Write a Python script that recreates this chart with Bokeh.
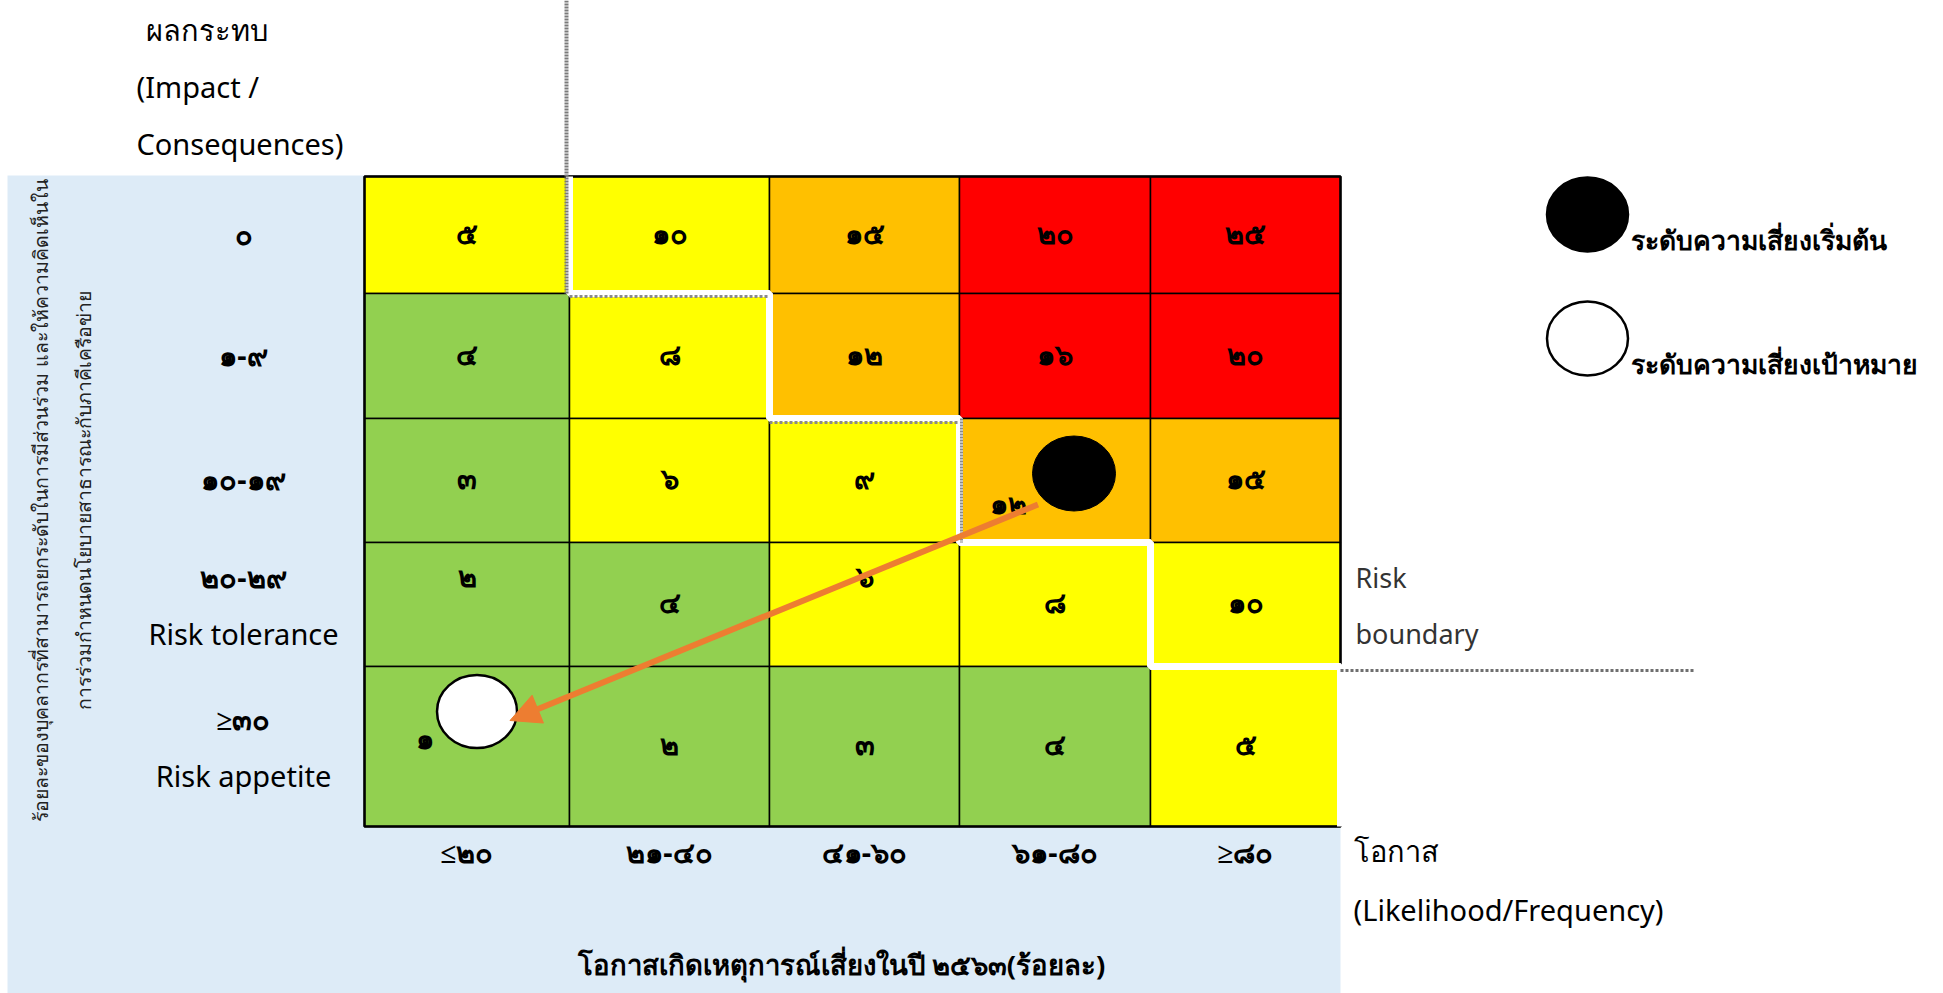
from math import pi
from bokeh.plotting import figure
from bokeh.models import Range1d, Arrow, NormalHead, Label
from bokeh.core.properties import value
from bokeh.embed import file_html
from bokeh.resources import INLINE

# ---------------- data ----------------
impact_labels = ["๐", "๑-๙", "๑๐-๑๙", "๒๐-๒๙", "≥๓๐"]          # top -> bottom
impact_notes = ["", "", "", "Risk tolerance", "Risk appetite"]
likelihood_labels = ["≤๒๐", "๒๑-๔๐", "๔๑-๖๐", "๖๑-๘๐", "≥๘๐"]  # left -> right
scores = [
    [5, 10, 15, 20, 25],
    [4, 8, 12, 16, 20],
    [3, 6, 9, 12, 15],
    [2, 4, 6, 8, 10],
    [1, 2, 3, 4, 5],
]
levels = [
    ["medium", "medium", "high", "very_high", "very_high"],
    ["low", "medium", "high", "very_high", "very_high"],
    ["low", "medium", "medium", "high", "high"],
    ["low", "low", "medium", "medium", "medium"],
    ["low", "low", "low", "low", "medium"],
]
tolerance_cols = [1, 2, 3, 4, 5]          # cells inside the risk boundary per row
initial_risk = (2, 3)                      # (impact row, likelihood col)
target_risk = (4, 0)
legend_labels = ["ระดับความเสี่ยงเริ่มต้น", "ระดับความเสี่ยงเป้าหมาย"]
y_title = ["ร้อยละของบุคลากรที่สามารถยกระดับในการมีส่วนร่วม และให้ความคิดเห็นใน",
           "การร่วมกำหนดนโยบายสาธารณะกับภาคีเครือข่าย"]
impact_title = ["ผลกระทบ", "(Impact /", "Consequences)"]
likelihood_title = ["โอกาส", "(Likelihood/Frequency)"]
x_title = "โอกาสเกิดเหตุการณ์เสี่ยงในปี ๒๕๖๓(ร้อยละ)"
boundary_label = ["Risk", "boundary"]

# ---------------- styles / layout ----------------
W, H = 1943, 993
COLORS = {"low": "#92D050", "medium": "#FFFF00", "high": "#FFC000", "very_high": "#FF0000"}
PANEL = "#DDEBF7"
ORANGE = "#ED7D31"
FONT_NAME = "Noto Sans"
FONT = value(FONT_NAME)
COL_EDGES = [364, 569, 769, 959, 1150, 1340]
ROW_EDGES = [176, 293, 418, 542, 666, 826]
THAI = str.maketrans("0123456789", "๐๑๒๓๔๕๖๗๘๙")
NUM_SIZE = "29px"


def th(n):
    return str(n).translate(THAI)


def cx(c):
    return (COL_EDGES[c] + COL_EDGES[c + 1]) / 2


def cy(r):
    return (ROW_EDGES[r] + ROW_EDGES[r + 1]) / 2


def label(x, y, text, size="26px", bold=False, align="center", color="black", angle=0):
    p.add_layout(Label(x=x, y=y, text=text, text_align=align, text_baseline="middle",
                       text_font=FONT_NAME, text_font_size=size, angle=angle,
                       text_font_style="bold" if bold else "normal", text_color=color))


p = figure(width=W, height=H, x_range=Range1d(0, W), y_range=Range1d(H, 0),
           output_backend="svg", toolbar_location=None, min_border=0,
           outline_line_color=None, background_fill_color="white")
p.axis.visible = False
p.grid.visible = False

# blue panel
p.quad(left=[7], right=[COL_EDGES[-1]], top=[175], bottom=[H], fill_color=PANEL, line_color=None)

# cells
xs_l, xs_r, ys_t, ys_b, fills, tx, ty, tt = [], [], [], [], [], [], [], []
for r in range(5):
    for c in range(5):
        xs_l.append(COL_EDGES[c]); xs_r.append(COL_EDGES[c + 1])
        ys_t.append(ROW_EDGES[r]); ys_b.append(ROW_EDGES[r + 1])
        fills.append(COLORS[levels[r][c]])
        dx, dy = 0, -3
        if r == 3 and c in (0, 2):
            dy = -29
        if (r, c) == initial_risk:
            dx, dy = -47, 22
        if (r, c) == target_risk:
            dx, dy = -42, -9
        tx.append(cx(c) + dx); ty.append(cy(r) + dy); tt.append(th(scores[r][c]))
p.quad(left=xs_l, right=xs_r, top=ys_t, bottom=ys_b, fill_color=fills,
       line_color="black", line_width=1.5)
p.quad(left=[COL_EDGES[0]], right=[COL_EDGES[-1]], top=[ROW_EDGES[0]], bottom=[ROW_EDGES[-1]],
       fill_color=None, line_color="black", line_width=2.5)

# risk boundary (white staircase with hatched grey edge)
bx, by = [], []
for r, nc in enumerate(tolerance_cols):
    bx += [COL_EDGES[nc], COL_EDGES[nc]]
    by += [ROW_EDGES[r], ROW_EDGES[r + 1]]
p.line(bx, by, line_color="white", line_width=7)
p.line([COL_EDGES[1] - 3, COL_EDGES[1] - 3], [0, ROW_EDGES[1]], line_color="#7a7a7a",
       line_width=4, line_dash="2 1")
p.line([COL_EDGES[1], COL_EDGES[2]], [ROW_EDGES[1] + 3, ROW_EDGES[1] + 3],
       line_color="#8a8a8a", line_width=3, line_dash="3 2")
p.line([COL_EDGES[2], COL_EDGES[3]], [ROW_EDGES[2] + 4, ROW_EDGES[2] + 4],
       line_color="#8a8a8a", line_width=3, line_dash="3 2")
p.line([COL_EDGES[3] + 2, COL_EDGES[3] + 2], [ROW_EDGES[2], ROW_EDGES[3]],
       line_color="#8a8a8a", line_width=3, line_dash="2 1")
p.line([COL_EDGES[-1], 1695], [ROW_EDGES[4] + 4, ROW_EDGES[4] + 4],
       line_color="#6f6f6f", line_width=3, line_dash="3 2")

# cell numbers
p.text(x=tx, y=ty, text=tt, text_align="center", text_baseline="middle",
       text_font=FONT, text_font_style="bold", text_font_size=NUM_SIZE, text_color="black")

# row labels
for r, lab in enumerate(impact_labels):
    if impact_notes[r]:
        label(243, cy(r) - 28, lab, NUM_SIZE, True)
        label(243, cy(r) + 29, impact_notes[r], "29px")
    else:
        label(243, cy(r) - 2, lab, NUM_SIZE, True)

# column labels
for c, lab in enumerate(likelihood_labels):
    label(cx(c), 851, lab, NUM_SIZE, True)

# titles
for i, t in enumerate(impact_title):
    label(136 + (9 if i == 0 else 0), 29 + 57 * i, t, "29px", False, "left")
for i, t in enumerate(likelihood_title):
    label(1353, 850 + 59 * i, t, "29px", False, "left")
label(841, 964, x_title, "27.5px", True)
for i, t in enumerate(y_title):
    label(40 + 43 * i, 500, t, "19.5px", False, "center", "#222222", pi / 2)
for i, t in enumerate(boundary_label):
    label(1355, 577 + 56 * i, t, "27px", False, "left", "#333333")

# risk markers
ir, ic = initial_risk
tr, tc = target_risk
bxc, byc = cx(ic) + 19, cy(ir) - 7
wxc, wyc = cx(tc) + 10, cy(tr) - 35
p.ellipse(x=[bxc], y=[byc], width=83, height=75, fill_color="black", line_color="black")
p.ellipse(x=[wxc], y=[wyc], width=80, height=73, fill_color="white", line_color="black", line_width=2.5)
p.add_layout(Arrow(end=NormalHead(size=30, fill_color=ORANGE, line_color=ORANGE),
                   x_start=bxc - 36, y_start=byc + 31, x_end=wxc + 33, y_end=wyc + 9,
                   line_color=ORANGE, line_width=6))

# legend
lx = 1587
for i, t in enumerate(legend_labels):
    yy = 214 + 124 * i
    p.ellipse(x=[lx], y=[yy], width=81, height=74, fill_color="black" if i == 0 else "white",
              line_color="black", line_width=2.5)
    label(1630, yy + 25, t, "26.5px", True, "left")

open("out.html", "w").write(file_html(p, INLINE))
